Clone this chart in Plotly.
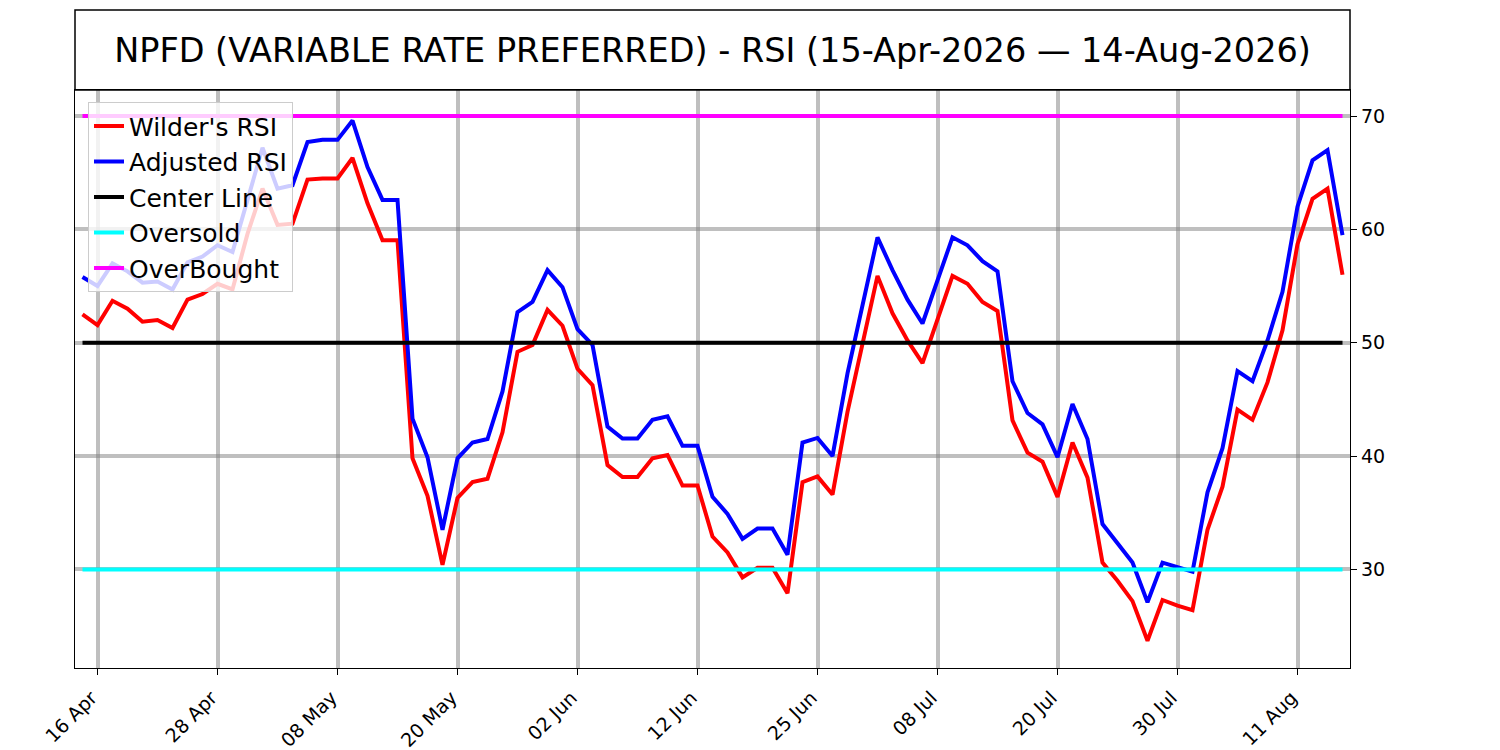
import pandas as pd
import plotly.graph_objects as go

# trading days 15 Apr - 14 Aug 2026 (US market holidays removed)
holidays = ['2026-05-25', '2026-06-19', '2026-07-03']
days = pd.bdate_range('2026-04-15', '2026-08-14')
days = days[~days.isin(pd.to_datetime(holidays))]
dates = [d.strftime('%Y-%m-%d') for d in days]

wilder_rsi = [52.5, 51.55, 53.7, 53.0, 51.85, 52.0, 51.3, 53.8, 54.3, 55.2,
              54.7, 59.6, 63.6, 60.4, 60.5, 64.4, 64.5, 64.5, 66.3, 62.3,
              59.05, 59.05, 39.8, 36.5, 30.4, 36.3, 37.7, 38.0, 42.1, 49.2,
              49.8, 52.9, 51.5, 47.7, 46.25, 39.2, 38.15, 38.15, 39.8, 40.1,
              37.4, 37.4, 32.9, 31.5, 29.3, 30.15, 30.15, 27.9, 37.7, 38.2,
              36.6, 43.9, 49.9, 55.9, 52.6, 50.2, 48.2, 52.1, 55.9, 55.2,
              53.6, 52.8, 43.15, 40.3, 39.5, 36.4, 41.2, 38.1, 30.6, 29.0,
              27.2, 23.7, 27.3, 26.8, 26.4, 33.5, 37.3, 44.1, 43.2, 46.5,
              51.1, 58.7, 62.7, 63.6, 56.0]

adjusted_rsi = [55.8, 55.0, 57.0, 56.3, 55.3, 55.4, 54.7, 57.1, 57.6, 58.6,
                58.0, 62.6, 67.2, 63.6, 63.9, 67.7, 67.9, 67.9, 69.6, 65.5,
                62.6, 62.6, 43.3, 39.9, 33.5, 39.8, 41.2, 41.5, 45.7, 52.7,
                53.6, 56.4, 54.9, 51.2, 49.8, 42.6, 41.55, 41.55, 43.2, 43.5,
                40.9, 40.9, 36.4, 34.9, 32.7, 33.6, 33.6, 31.3, 41.2, 41.6,
                40.0, 47.3, 53.5, 59.3, 56.4, 53.8, 51.7, 55.5, 59.3, 58.6,
                57.2, 56.3, 46.6, 43.8, 42.8, 39.9, 44.6, 41.5, 34.0, 32.3,
                30.6, 27.1, 30.6, 30.2, 29.8, 36.8, 40.7, 47.5, 46.6, 50.2,
                54.5, 62.0, 66.1, 67.0, 59.5]

center_level = 50
oversold_level = 30
overbought_level = 70

tick_dates = ['2026-04-16', '2026-04-28', '2026-05-08', '2026-05-20', '2026-06-02',
              '2026-06-12', '2026-06-25', '2026-07-08', '2026-07-20', '2026-07-30',
              '2026-08-11']
tick_labels = ['16 Apr', '28 Apr', '08 May', '20 May', '02 Jun', '12 Jun',
               '25 Jun', '08 Jul', '20 Jul', '30 Jul', '11 Aug']

title = 'NPFD (VARIABLE RATE PREFERRED) - RSI (15-Apr-2026 \u2014 14-Aug-2026)'

fig = go.Figure()
fig.add_trace(go.Scatter(x=dates, y=wilder_rsi, mode='lines', name="Wilder's RSI",
                         line=dict(color='#ff0000', width=4)))
fig.add_trace(go.Scatter(x=dates, y=adjusted_rsi, mode='lines', name='Adjusted RSI',
                         line=dict(color='#0000ff', width=4)))
fig.add_trace(go.Scatter(x=dates, y=[center_level] * len(dates), mode='lines', name='Center Line',
                         line=dict(color='#000000', width=4)))
fig.add_trace(go.Scatter(x=dates, y=[oversold_level] * len(dates), mode='lines', name='Oversold',
                         line=dict(color='#00ffff', width=4)))
fig.add_trace(go.Scatter(x=dates, y=[overbought_level] * len(dates), mode='lines', name='OverBought',
                         line=dict(color='#ff00ff', width=4)))

# title box sitting on top of the plot frame
fig.add_shape(type='rect', xref='paper', yref='paper', x0=0, x1=1, y0=1, y1=1.1384,
              line=dict(color='black', width=1.5), fillcolor='rgba(0,0,0,0)')

# page body has an 8px margin, so margins are shifted to compensate
fig.update_layout(
    width=1500, height=750,
    margin=dict(l=67, r=158, t=82, b=90, autoexpand=False),
    paper_bgcolor='white', plot_bgcolor='white',
    font=dict(family='DejaVu Sans', size=19, color='black'),
    title=dict(text=title, x=0.5, xanchor='center', xref='paper',
               y=1 - 42 / 750, yanchor='middle', font=dict(size=33.5)),
    legend=dict(x=0.0102, y=0.979, xanchor='left', yanchor='top',
                bgcolor='rgba(255,255,255,0.8)', bordercolor='#cccccc', borderwidth=1,
                font=dict(size=25)),
    showlegend=True,
)
fig.update_xaxes(type='category', range=[-0.5, len(dates) - 0.5], automargin=False,
                 tickvals=tick_dates, ticktext=tick_labels, tickangle=-45,
                 ticklabelshift=-6, ticklabelstandoff=4,
                 ticks='outside', ticklen=6, tickcolor='black',
                 showgrid=True, gridcolor='rgba(128,128,128,0.5)', gridwidth=4,
                 showline=True, linecolor='black', linewidth=1.3, mirror=True,
                 zeroline=False)
fig.update_yaxes(side='right', range=[21.3, 72.3], tickvals=[30, 40, 50, 60, 70],
                 automargin=False,
                 ticks='outside', ticklen=6, tickcolor='black',
                 showgrid=True, gridcolor='rgba(128,128,128,0.5)', gridwidth=4,
                 showline=True, linecolor='black', linewidth=1.3, mirror=True,
                 zeroline=False)

fig.write_html('out.html')
